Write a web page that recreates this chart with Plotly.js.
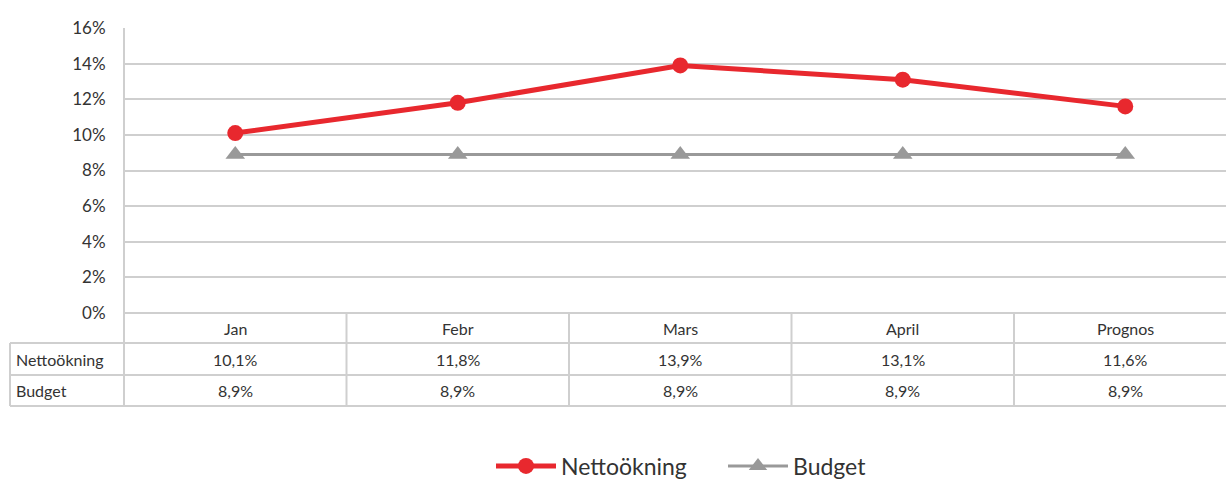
<!DOCTYPE html>
<html>
<head>
<meta charset="utf-8">
<script src="https://cdn.plot.ly/plotly-3.0.1.min.js"></script>
<style>html,body{margin:0;padding:0;background:#fff;}#chart{width:1226px;height:480px;}</style>
</head>
<body>
<div id="chart"></div>
<script>
const categories = ["Jan", "Febr", "Mars", "April", "Prognos"];
const nettookning = [10.1, 11.8, 13.9, 13.1, 11.6];
const budget = [8.9, 8.9, 8.9, 8.9, 8.9];
const seriesNames = ["Nettoökning", "Budget"];

const W = 1226, H = 480, L = 124, T = 28, B = 167;
const plotW = W - L, plotH = H - T - B;
const px = p => (p - L) / plotW;           // pixel x -> paper x
const py = p => (H - B - p) / plotH;        // pixel y -> paper y
const fmt = v => v.toFixed(1).replace('.', ',') + '%';
const xs = categories.map((c, i) => i);

const gridCol = '#cfcfcf';
const textCol = '#333333';
const font = 'Lato, "Open Sans", sans-serif';

const traces = [
  {x: xs, y: nettookning, name: seriesNames[0], mode: 'lines+markers', type: 'scatter',
   line: {color: '#e8282e', width: 5}, marker: {symbol: 'circle', size: 16, color: '#e8282e'}},
  {x: xs, y: budget, name: seriesNames[1], mode: 'lines+markers', type: 'scatter',
   line: {color: '#999999', width: 3}, marker: {symbol: 'triangle-up', size: 17, color: '#999999'}}
];

const shapes = [];
const annotations = [];
const lineStyle = {color: gridCol, width: 2};
// top of table (0% line)
shapes.push({type: 'line', xref: 'paper', yref: 'paper', x0: 0, x1: 1, y0: 0, y1: 0, line: lineStyle, layer: 'below'});
// horizontal table lines
[343, 375, 406].forEach(p => shapes.push({type: 'line', xref: 'paper', yref: 'paper',
  x0: px(10), x1: 1, y0: py(p), y1: py(p), line: lineStyle}));
// left border of row label column
shapes.push({type: 'line', xref: 'paper', yref: 'paper', x0: px(10), x1: px(10), y0: py(343), y1: py(406), line: lineStyle});
shapes.push({type: 'line', xref: 'paper', yref: 'paper', x0: 0, x1: 0, y0: 1, y1: py(406), line: lineStyle});
// category boundaries
for (let i = 0; i < categories.length - 1; i++) {
  shapes.push({type: 'line', xref: 'x', yref: 'paper', x0: i + 0.5, x1: i + 0.5, y0: 0, y1: py(406), line: lineStyle});
}
const cellFont = {family: font, size: 16, color: textCol};
categories.forEach((c, i) => {
  annotations.push({xref: 'x', yref: 'paper', x: i, y: py(328), text: c, showarrow: false, font: cellFont, yanchor: 'middle'});
  annotations.push({xref: 'x', yref: 'paper', x: i, y: py(359), text: fmt(nettookning[i]), showarrow: false, font: cellFont, yanchor: 'middle'});
  annotations.push({xref: 'x', yref: 'paper', x: i, y: py(390), text: fmt(budget[i]), showarrow: false, font: cellFont, yanchor: 'middle'});
});
annotations.push({xref: 'paper', yref: 'paper', x: px(14), y: py(359), text: seriesNames[0], showarrow: false, font: cellFont, xanchor: 'left', yanchor: 'middle'});
annotations.push({xref: 'paper', yref: 'paper', x: px(14), y: py(390), text: seriesNames[1], showarrow: false, font: cellFont, xanchor: 'left', yanchor: 'middle'});

const layout = {
  width: W, height: H,
  margin: {l: L, r: 0, t: T, b: B, pad: 0, autoexpand: false},
  paper_bgcolor: '#ffffff', plot_bgcolor: '#ffffff',
  font: {family: font, color: textCol},
  xaxis: {range: [-0.5, -0.5 + plotW / 222.5], showticklabels: false, showgrid: false, zeroline: false,
          showline: false, ticks: '', fixedrange: true},
  yaxis: {range: [0, 16], dtick: 2, ticksuffix: '%', showgrid: true, gridcolor: gridCol, gridwidth: 2,
          zeroline: false, showline: false,
          ticks: 'outside', ticklen: 14, tickcolor: 'rgba(0,0,0,0)',
          tickfont: {family: font, size: 17, color: textCol}},
  showlegend: true,
  legend: {orientation: 'h', x: px(491), xanchor: 'left', y: py(466), yanchor: 'middle',
           entrywidth: 157, entrywidthmode: 'pixels',
           font: {family: font, size: 23, color: textCol}, itemwidth: 60},
  shapes: shapes,
  annotations: annotations
};

Plotly.newPlot('chart', traces, layout, {displayModeBar: false, staticPlot: true});
</script>
</body>
</html>
